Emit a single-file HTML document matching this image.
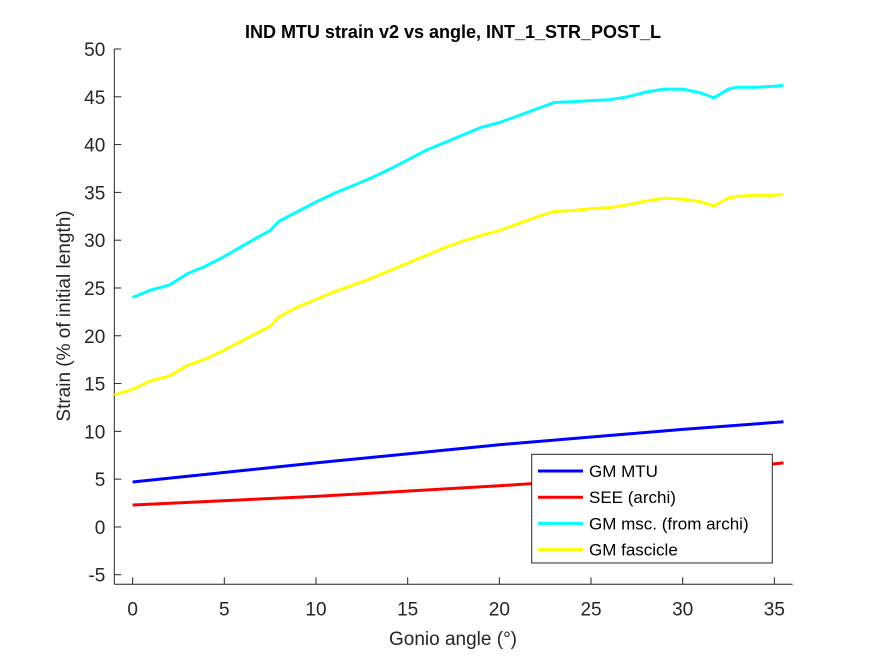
<!DOCTYPE html>
<html><head><meta charset="utf-8"><style>
body{margin:0;background:#fff}
svg text{font-family:"Liberation Sans",Arial,sans-serif;fill:#262626}
</style></head><body>
<svg id="chart" width="875" height="656" xmlns="http://www.w3.org/2000/svg">
<rect width="875" height="656" fill="#fff"/>
<text x="453" y="38" text-anchor="middle" font-size="18" font-weight="bold" style="fill:#000">IND MTU strain v2 vs angle, INT_1_STR_POST_L</text>
<g id="axes"></g>
<g id="series"></g>
<text x="453" y="645" text-anchor="middle" font-size="19">Gonio angle (°)</text>
<text transform="translate(70,316) rotate(-90)" text-anchor="middle" font-size="19">Strain (% of initial length)</text>
<g id="legend"></g>
</svg>
<script>
const xTicks=[0,5,10,15,20,25,30,35];
const yTicks=[-5,0,5,10,15,20,25,30,35,40,45,50];
const mtuX=[0,10,20,30,35.5];
const mtuY=[4.7,6.7,8.6,10.2,11.0];
const seeX=[0,10,20,30,35.5];
const seeY=[2.3,3.2,4.3,5.6,6.7];
const mscX=[0,1,2,3,4,5,6,7,7.5,8,9,10,11,12,13,14,15,16,17,18,19,20,21,22,23,24,25,26,27,28,29,30,31,31.7,32.5,33,34,35,35.5];
const mscY=[24.0,24.8,25.3,26.5,27.3,28.3,29.4,30.5,31.0,32.0,33.0,34.0,34.9,35.7,36.5,37.4,38.4,39.4,40.2,41.0,41.8,42.3,43.0,43.7,44.4,44.5,44.6,44.7,45.0,45.5,45.8,45.8,45.4,44.9,45.8,46.0,46.0,46.1,46.2];
const fasX=[-1,0,1,2,3,4,5,6,7,7.5,8,9,10,11,12,13,14,15,16,17,18,19,20,21,22,23,24,25,26,27,28,29,30,31,31.7,32.5,33,34,35,35.5];
const fasY=[13.8,14.4,15.3,15.8,16.9,17.6,18.5,19.5,20.5,21.0,22.0,23.0,23.8,24.6,25.3,26.0,26.8,27.6,28.4,29.2,29.9,30.5,31.0,31.7,32.4,33.0,33.1,33.3,33.4,33.7,34.1,34.4,34.3,34.0,33.6,34.4,34.6,34.7,34.7,34.8];
const seriesNames=["GM MTU","SEE (archi)","GM msc. (from archi)","GM fascicle"];
const L=114.3,R=792.7,T=49,B=584.3,XMIN=-1,XMAX=36,YMIN=-6,YMAX=50;
const sx=v=>L+(v-XMIN)/(XMAX-XMIN)*(R-L);
const sy=v=>B-(v-YMIN)/(YMAX-YMIN)*(B-T);
const NS="http://www.w3.org/2000/svg";
function mk(tag,attrs,parent){const e=document.createElementNS(NS,tag);for(const k in attrs)e.setAttribute(k,attrs[k]);parent.appendChild(e);return e;}
const ax=document.getElementById('axes');
let e=mk('line',{x1:L,y1:B,x2:R,y2:B,stroke:'#262626','stroke-width':1},ax);


e=mk('line',{x1:L,y1:B,x2:L,y2:T,stroke:'#262626','stroke-width':1},ax);


xTicks.forEach(t=>{
  const x=sx(t);
  mk('line',{x1:x,y1:B,x2:x,y2:B-7,stroke:'#262626'},ax);
  const tx=mk('text',{x:x,y:B+31,'text-anchor':'middle','font-size':'19'},ax);
  tx.textContent=t;
  
  
});
yTicks.forEach(t=>{
  const y=sy(t);
  mk('line',{x1:L,y1:y,x2:L+7,y2:y,stroke:'#262626'},ax);
  const tx=mk('text',{x:L-9,y:y+7,'text-anchor':'end','font-size':'19'},ax);
  tx.textContent=t;
  
  
});
const sg=document.getElementById('series');
const defs=[[mtuX,mtuY,'#0000ff','gm-mtu-line'],[seeX,seeY,'#ff0000','see-archi-line'],[mscX,mscY,'#00ffff','gm-msc-line'],[fasX,fasY,'#ffff00','gm-fascicle-line']];
defs.forEach(d=>{
  const pts=d[0].map((x,i)=>sx(x).toFixed(1)+','+sy(d[1][i]).toFixed(1)).join(' ');
  const p=mk('polyline',{points:pts,fill:'none',stroke:d[2],'stroke-width':3,'stroke-linejoin':'round'},sg);
  
  
});
const lg=document.getElementById('legend');
const box=mk('rect',{x:531.7,y:454.3,width:240.6,height:108.7,fill:'#fff',stroke:'#262626','stroke-width':1},lg);


seriesNames.forEach((n,i)=>{
  const y=471+i*26.2;
  mk('line',{x1:538,y1:y,x2:583,y2:y,stroke:defs[i][2],'stroke-width':3},lg);
  const t=mk('text',{x:589,y:y+6,'font-size':'17',style:'fill:#000'},lg);
  t.textContent=n;
  
  
});
</script>
</body></html>
